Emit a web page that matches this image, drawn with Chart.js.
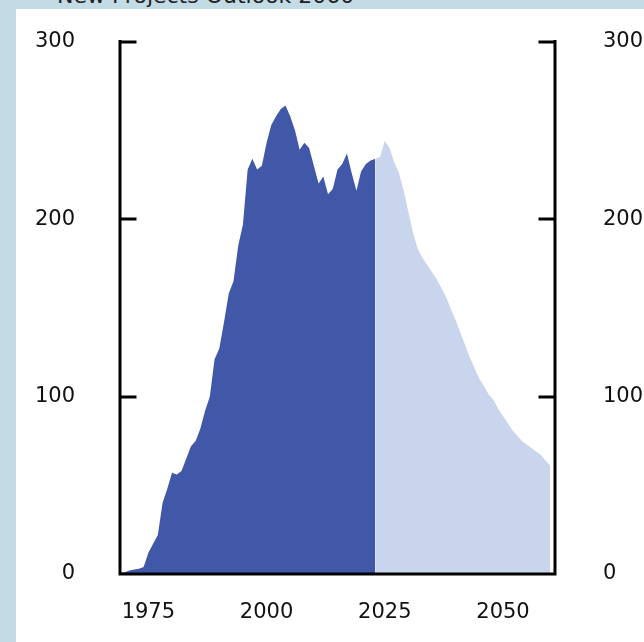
<!DOCTYPE html>
<html>
<head>
<meta charset="utf-8">
<script src="https://cdn.jsdelivr.net/npm/chart.js@4.4.0/dist/chart.umd.min.js"></script>
<style>
  html, body { margin: 0; padding: 0; }
  body { width: 644px; height: 642px; background: #c3dbe5; position: relative; overflow: hidden; font-family: 'DejaVu Sans', sans-serif; }
  .title { position: absolute; left: 57px; top: -15px; font-size: 22px; line-height: 22px; color: #222; white-space: nowrap; }
  .panel { position: absolute; left: 16px; top: 9px; width: 628px; height: 633px; background: #fff; }
  #c { position: absolute; left: 16px; top: -19px; }
</style>
</head>
<body>
<div class="title">New Projects Outlook 2060</div>
<div class="panel"></div>
<canvas id="c" width="628" height="661"></canvas>
<script>
// historical, annual
const histYears = [];
for (let y = 1969; y <= 2023; y++) histYears.push(y);
const histValues = [
  0.5, 1, 2, 2.5, 3, 4, 12, 17, 22, 40,
  48, 57, 56, 58, 65, 72, 75, 82, 92, 100,
  121, 127, 142, 158, 165, 185, 197, 228, 234, 228,
  230, 243, 253, 258, 262, 264, 258, 250, 239, 243,
  240, 230, 220, 224, 214, 217, 228, 231, 237, 226,
  216, 227, 231, 233, 234
];

// projection, annual
const projYears = [];
for (let y = 2023; y <= 2060; y++) projYears.push(y);
const projValues = [
  234, 235, 244, 240, 232, 226, 216, 204, 192, 183,
  178, 174, 170, 166, 161, 156, 149, 143, 136, 129,
  122, 116, 110, 106, 101, 98, 93, 89, 85, 81,
  78, 75, 73, 71, 69, 67, 64, 61
];

const xTicks = [1975, 2000, 2025, 2050];
const yTicks = [0, 100, 200, 300];

const pts = (xs, vs) => xs.map((x, i) => ({ x, y: vs[i] }));

const axesPlugin = {
  id: 'axes',
  afterDatasetsDraw(chart) {
    const { ctx, chartArea: a } = chart;
    const ys = chart.scales.y;
    ctx.save();
    ctx.strokeStyle = '#000';
    ctx.lineWidth = 3;
    ctx.lineCap = 'square';
    ctx.beginPath();
    ctx.moveTo(a.left, a.top);
    ctx.lineTo(a.left, a.bottom);
    ctx.lineTo(a.right, a.bottom);
    ctx.lineTo(a.right, a.top);
    yTicks.forEach(v => {
      if (v === 0) return;
      const py = Math.round(ys.getPixelForValue(v));
      ctx.moveTo(a.left, py); ctx.lineTo(a.left + 15, py);
      ctx.moveTo(a.right, py); ctx.lineTo(a.right - 15, py);
    });
    ctx.stroke();
    ctx.restore();
  }
};

const font = { family: "'DejaVu Sans', sans-serif", size: 21 };

new Chart(document.getElementById('c'), {
  type: 'line',
  data: {
    datasets: [
      { data: pts(projYears, projValues), fill: 'origin', backgroundColor: '#c8d5ec', borderWidth: 0, pointRadius: 0, tension: 0 },
      { data: pts(histYears, histValues), fill: 'origin', backgroundColor: '#4157a7', borderWidth: 0, pointRadius: 0, tension: 0 }
    ]
  },
  options: {
    responsive: false,
    animation: false,
    layout: { padding: { top: 4, left: 0, right: 0, bottom: 0 } },
    plugins: { legend: { display: false }, tooltip: { enabled: false } },
    scales: {
      x: {
        type: 'linear', min: 1969, max: 2061,
        afterBuildTicks: s => { s.ticks = xTicks.map(v => ({ value: v })); },
        afterFit: s => { s.height = 68; },
        grid: { display: false, drawTicks: false },
        border: { display: false },
        ticks: { font, color: '#111', padding: 26, maxRotation: 0, callback: v => String(v) }
      },
      y: {
        position: 'left', min: 0, max: 300,
        afterBuildTicks: s => { s.ticks = yTicks.map(v => ({ value: v })); },
        afterFit: s => { s.width = 104; },
        grid: { display: false, drawTicks: false },
        border: { display: false },
        ticks: { font, color: '#111', padding: 45 }
      },
      y2: {
        position: 'right', min: 0, max: 300,
        afterBuildTicks: s => { s.ticks = yTicks.map(v => ({ value: v })); },
        afterFit: s => { s.width = 89; },
        grid: { display: false, drawTicks: false },
        border: { display: false },
        ticks: { font, color: '#111', padding: 48 }
      }
    }
  },
  plugins: [axesPlugin]
});
</script>
</body>
</html>
